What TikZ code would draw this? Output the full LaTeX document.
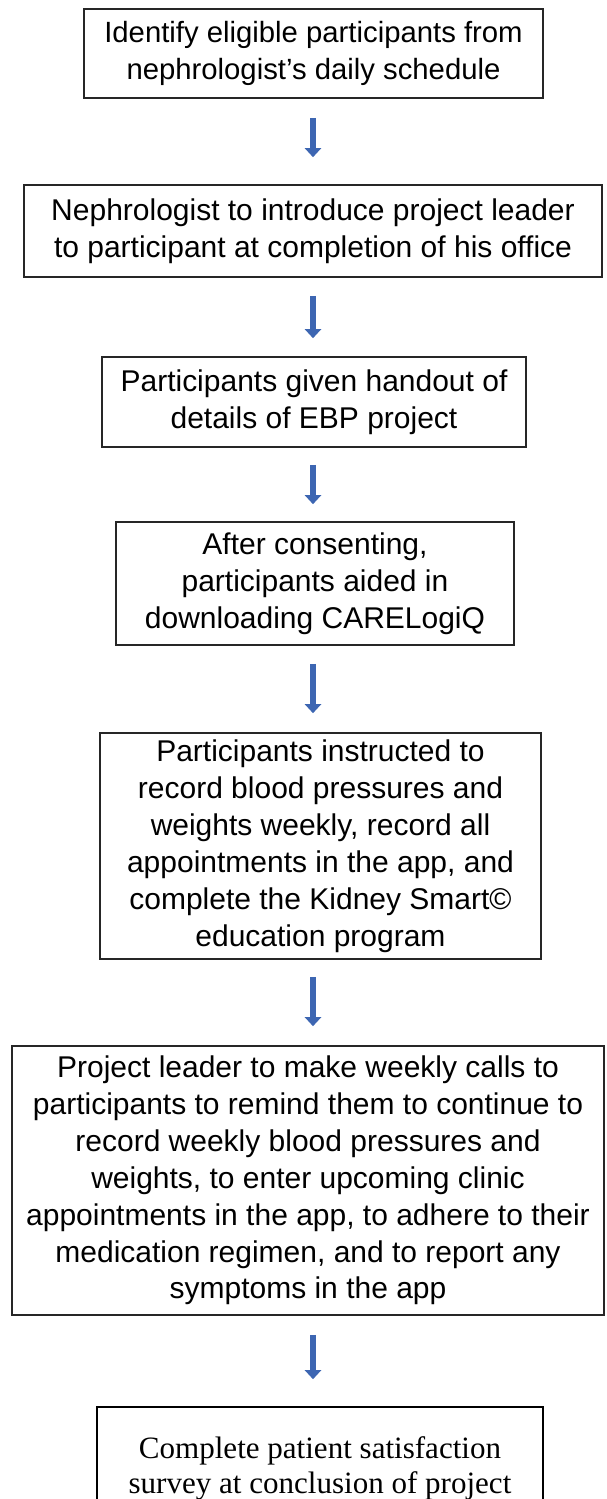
\documentclass[tikz,border=0pt]{standalone}
\usepackage{fontspec}
\setmainfont{Liberation Serif}
\newfontfamily\arialfont{Liberation Sans}
\usetikzlibrary{arrows.meta}

\definecolor{flowblue}{HTML}{3D66B2}
\newcommand{\px}[1]{#1*0.03cm}

\begin{document}
\begin{tikzpicture}[
  x=0.03cm, y=-0.03cm,
  stepbox/.style={draw=black!85, line width=\px{1.6}, align=center, inner sep=0pt,
    font=\arialfont\fontsize{25.6}{31.5}\selectfont},
  lastbox/.style={stepbox, draw=black, font=\fontsize{26.5}{29.9}\selectfont},
  flow/.style 2 args={draw=flowblue, line width=\px{6.3},
    -{Triangle[width=\px{16}, length=\px{9}]},
    shorten <=\px{#1}, shorten >=\px{#2}},
]
  \useasboundingbox (0,0) rectangle (606,1499);
  \coordinate (axis) at (313,0);

  \node[stepbox, minimum width=\px{459}, minimum height=\px{89},
        font=\arialfont\fontsize{25}{31.5}\selectfont] (ident) at (313.5,53.5)
    {Identify eligible participants from\\nephrologist’s daily schedule};
  \node[stepbox, minimum width=\px{578}, minimum height=\px{92}] (intro) at (313,231)
    {Nephrologist to introduce project leader\\to participant at completion of his office};
  \node[stepbox, minimum width=\px{424}, minimum height=\px{90}] (handout) at (314,402)
    {Participants given handout of\\details of EBP project};
  \node[stepbox, minimum width=\px{398}, minimum height=\px{123}] (consent) at (315,583.5)
    {After consenting,\\participants aided in\\downloading CARELogiQ};
  \node[stepbox, minimum width=\px{441}, minimum height=\px{226}] (instruct) at (320.5,846)
    {Participants instructed to\\record blood pressures and\\weights weekly, record all\\appointments in the app, and\\complete the Kidney Smart©\\education program};
  \node[stepbox, minimum width=\px{592}, minimum height=\px{269}] (calls) at (308,1180.5)
    {Project leader to make weekly calls to\\participants to remind them to continue to\\record weekly blood pressures and\\weights, to enter upcoming clinic\\appointments in the app, to adhere to their\\medication regimen, and to report any\\symptoms in the app};
  \node[lastbox, minimum width=\px{446}, minimum height=\px{122}] (survey) at (320,1468)
    {Complete patient satisfaction\\survey at conclusion of project};

  \draw[flow={19}{27}] (ident.south -| axis) -- (intro.north -| axis);
  \draw[flow={18}{18}] (intro.south -| axis) -- (handout.north -| axis);
  \draw[flow={17}{17}] (handout.south -| axis) -- (consent.north -| axis);
  \draw[flow={18}{19}] (consent.south -| axis) -- (instruct.north -| axis);
  \draw[flow={17}{19}] (instruct.south -| axis) -- (calls.north -| axis);
  \draw[flow={19}{27}] (calls.south -| axis) -- (survey.north -| axis);
\end{tikzpicture}
\end{document}
